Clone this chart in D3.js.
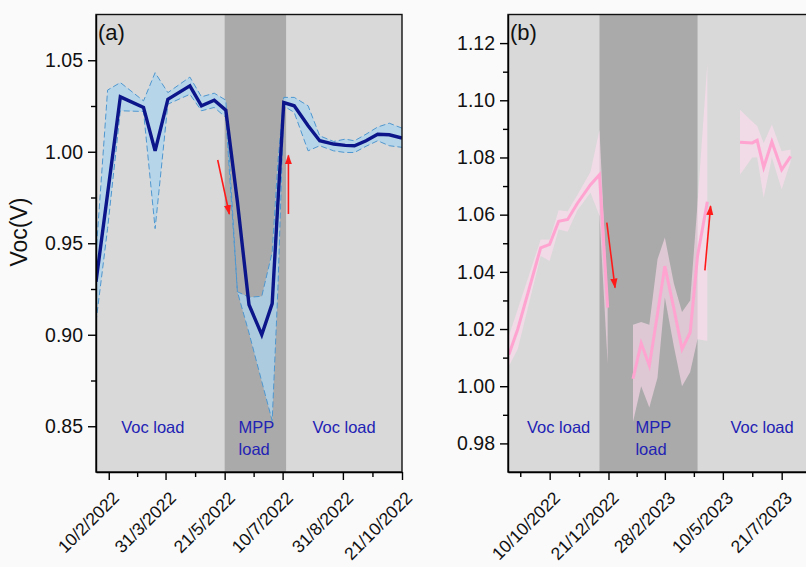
<!DOCTYPE html>
<html>
<head>
<meta charset="utf-8">
<script src="https://cdn.jsdelivr.net/npm/d3@7"></script>
<style>
body { margin: 0; background: #fafafa; }
text { font-family: "Liberation Sans", Arial, sans-serif; }
</style>
</head>
<body>
<svg width="806" height="567"></svg>
<script>
// ---- panel (a) data
var aDates = ["2022-01-30","2022-02-09","2022-02-20","2022-03-12","2022-03-22","2022-04-02","2022-04-21",
              "2022-05-01","2022-05-12","2022-05-22","2022-06-01","2022-06-11","2022-06-22","2022-07-01",
              "2022-07-06","2022-07-11","2022-07-20","2022-08-01","2022-08-11","2022-08-23","2022-09-02",
              "2022-09-10","2022-09-20","2022-09-30","2022-10-10","2022-10-21"];
var aMean = [0.929,0.977,1.030,1.0242,1.0005,1.0287,1.036,1.0251,1.0282,1.0227,0.9727,0.9164,0.900,0.917,
             0.973,1.0269,1.0251,1.0142,1.006,1.0042,1.0035,1.0033,1.006,1.0096,1.0093,1.0075];
var aHi   = [0.944,1.0337,1.0378,1.0278,1.0432,1.0323,1.0408,1.030,1.032,1.0282,0.9235,0.9205,0.921,0.945,
             0.995,1.0297,1.0297,1.0251,1.0087,1.0056,1.0069,1.006,1.0096,1.0135,1.0156,1.0129];
var aLo   = [0.907,0.958,1.0224,1.022,0.958,1.026,1.0314,1.0224,1.0242,1.0188,0.9235,0.901,0.8745,0.853,
             0.926,1.025,1.0215,1.0005,1.0033,1.0005,0.9996,0.9996,1.003,1.006,1.0033,1.0024];
var aMpp = ["2022-05-21","2022-07-13"];
var aXTicks = ["2022-02-10","2022-03-31","2022-05-21","2022-07-10","2022-08-31","2022-10-21"];
var aYTicks = [0.85,0.90,0.95,1.00,1.05];

// ---- panel (b) data, three separate runs
var bDates = ["2022-08-21","2022-09-01","2022-09-29","2022-10-10","2022-10-21","2022-11-01","2022-11-13",
              "2022-11-29","2022-12-10","2022-12-20",
              "2023-01-20","2023-01-30","2023-02-09","2023-02-19","2023-02-28","2023-03-11","2023-03-21",
              "2023-03-31","2023-04-09","2023-04-21",
              "2023-05-31","2023-06-15","2023-06-21","2023-06-29","2023-07-09","2023-07-21","2023-08-01"];
var bRun  = [0,0,0,0,0,0,0,0,0,0, 1,1,1,1,1,1,1,1,1,1, 2,2,2,2,2,2,2];
var bMean = [1.011,1.020,1.0484,1.0496,1.0577,1.0583,1.064,1.0705,1.074,1.0275,
             1.0026,1.015,1.0072,1.0253,1.042,1.0272,1.013,1.0188,1.0455,1.0645,
             1.0853,1.0851,1.086,1.0765,1.0855,1.0757,1.0804];
var bHi   = [1.0175,1.027,1.0513,1.0513,1.0615,1.0612,1.067,1.075,1.0897,1.030,
             1.0215,1.0225,1.0215,1.0444,1.052,1.036,1.026,1.030,1.064,1.113,
             1.0967,1.0926,1.091,1.0851,1.0915,1.0822,1.0828];
var bLo   = [1.007,1.013,1.0455,1.0438,1.0548,1.054,1.0615,1.0677,1.0595,1.0077,
             0.9875,1.000,0.9926,1.003,1.031,1.014,1.000,1.005,1.0164,1.0158,
             1.074,1.080,1.080,1.0659,1.080,1.0688,1.0785];
var bMpp = ["2022-12-10","2023-04-09"];
var bXTicks = ["2022-10-10","2022-12-21","2023-02-28","2023-05-10","2023-07-21"];
var bYTicks = [0.98,1.00,1.02,1.04,1.06,1.08,1.10,1.12];

var svg = d3.select("svg");
var parse = d3.timeParse("%Y-%m-%d");
var dmy = function(d) { return d.getDate() + "/" + (d.getMonth() + 1) + "/" + d.getFullYear(); };

var defs = svg.append("defs");
defs.append("marker")
    .attr("id", "head")
    .attr("viewBox", "0 -4 10 8")
    .attr("refX", 9).attr("refY", 0)
    .attr("markerWidth", 10).attr("markerHeight", 8)
    .attr("markerUnits", "userSpaceOnUse")
    .attr("orient", "auto")
    .append("path").attr("d", "M0,-3.6L10,0L0,3.6Z").attr("fill", "#ff1a1a");

function drawPanel(p) {
    var x = d3.scaleTime().domain(p.xDomain.map(parse)).range([p.left, p.right]);
    var y = d3.scaleLinear().domain(p.yDomain).range([p.bottom, p.top]);
    var g = svg.append("g");

    g.append("rect")
        .attr("x", p.left).attr("y", p.top)
        .attr("width", p.right - p.left).attr("height", p.bottom - p.top)
        .attr("fill", "#d9d9d9");
    g.append("rect")
        .attr("x", x(parse(p.mpp[0]))).attr("y", p.top)
        .attr("width", x(parse(p.mpp[1])) - x(parse(p.mpp[0]))).attr("height", p.bottom - p.top)
        .attr("fill", "#aaaaaa");

    defs.append("clipPath").attr("id", p.id + "clip")
        .append("rect")
        .attr("x", p.left).attr("y", p.top)
        .attr("width", p.right - p.left).attr("height", p.bottom - p.top);

    var rows = p.dates.map(function(d, i) {
        return {date: parse(d), mean: p.mean[i], hi: p.hi[i], lo: p.lo[i], run: p.run ? p.run[i] : 0};
    });
    var runs = d3.groups(rows, function(d) { return d.run; }).map(function(r) { return r[1]; });

    var area = d3.area()
        .x(function(d) { return x(d.date); })
        .y0(function(d) { return y(d.lo); })
        .y1(function(d) { return y(d.hi); });
    var line = function(key) {
        return d3.line().x(function(d) { return x(d.date); }).y(function(d) { return y(d[key]); });
    };

    var plot = g.append("g").attr("clip-path", "url(#" + p.id + "clip)");
    runs.forEach(function(r) {
        plot.append("path").attr("d", area(r))
            .attr("fill", p.bandFill).attr("fill-opacity", p.bandOpacity);
        if (p.edge) {
            ["hi", "lo"].forEach(function(k) {
                plot.append("path").attr("d", line(k)(r))
                    .attr("fill", "none").attr("stroke", p.edge)
                    .attr("stroke-width", 1).attr("stroke-dasharray", "6,3");
            });
        }
        plot.append("path").attr("d", line("mean")(r))
            .attr("fill", "none").attr("stroke", p.lineColor)
            .attr("stroke-width", p.lineWidth).attr("stroke-linejoin", "miter");
    });

    // arrows
    p.arrows.forEach(function(a) {
        g.append("line")
            .attr("x1", x(parse(a[0]))).attr("y1", y(a[1]))
            .attr("x2", x(parse(a[2]))).attr("y2", y(a[3]))
            .attr("stroke", "#ff1a1a").attr("stroke-width", 1.6)
            .attr("marker-end", "url(#head)");
    });

    // region labels
    p.labels.forEach(function(l) {
        var t = g.append("text")
            .attr("x", x(parse(l[1]))).attr("y", p.bottom - 39)
            .attr("text-anchor", l[2])
            .attr("fill", "#2222b4").attr("font-size", 16.5);
        l[0].split("\n").forEach(function(s, i) {
            t.append("tspan").attr("x", x(parse(l[1]))).attr("dy", i ? 22 : 0).text(s);
        });
    });

    // frame
    g.append("rect")
        .attr("x", p.left).attr("y", p.top)
        .attr("width", p.right - p.left).attr("height", p.bottom - p.top)
        .attr("fill", "none").attr("stroke", "#111").attr("stroke-width", 1.4);

    // y axis
    var yStep = p.yTicks[1] - p.yTicks[0];
    var yMinor = p.yTicks.map(function(v) { return v + yStep / 2; })
        .concat([p.yTicks[0] - yStep / 2])
        .filter(function(v) { return v > p.yDomain[0] + 1e-6 && v < p.yDomain[1] - 1e-6; });
    g.append("g").attr("transform", "translate(" + p.left + ",0)")
        .call(d3.axisLeft(y).tickValues(yMinor).tickSize(5).tickSizeOuter(0).tickFormat(""))
        .call(function(s) { s.select(".domain").remove(); s.selectAll("line").attr("stroke-width", 1.4); });
    g.append("g").attr("transform", "translate(" + p.left + ",0)")
        .call(d3.axisLeft(y).tickValues(p.yTicks).tickSize(8).tickSizeOuter(0).tickPadding(5)
              .tickFormat(d3.format(".2f")))
        .call(function(s) {
            s.select(".domain").attr("stroke-width", 1.4);
            s.selectAll("line").attr("stroke-width", 1.4);
            s.selectAll("text").attr("font-size", 19.5).attr("fill", "#111")
                .attr("font-family", "Liberation Sans, Arial, sans-serif");
        });

    // x axis
    var xt = p.xTicks.map(parse);
    var xMinor = [];
    for (var i = 0; i < xt.length; i++) {
        var prev = i > 0 ? xt[i - 1] : new Date(2 * xt[0] - xt[1]);
        xMinor.push(new Date((+prev + +xt[i]) / 2));
    }
    xMinor.push(new Date(xt[xt.length - 1] * 1.5 - xt[xt.length - 2] * 0.5));
    xMinor = xMinor.filter(function(d) { return x(d) > p.left + 1 && x(d) < p.right - 1; });
    g.append("g").attr("transform", "translate(0," + p.bottom + ")")
        .call(d3.axisBottom(x).tickValues(xMinor).tickSize(5).tickSizeOuter(0).tickFormat(""))
        .call(function(s) { s.select(".domain").remove(); s.selectAll("line").attr("stroke-width", 1.4); });
    g.append("g").attr("transform", "translate(0," + p.bottom + ")")
        .call(d3.axisBottom(x).tickValues(xt).tickSize(8).tickSizeOuter(0).tickFormat(dmy))
        .call(function(s) {
            s.select(".domain").attr("stroke-width", 1.4);
            s.selectAll("line").attr("stroke-width", 1.4);
            s.selectAll("text")
                .attr("font-size", 17.5).attr("fill", "#111")
                .attr("font-family", "Liberation Sans, Arial, sans-serif")
                .attr("text-anchor", "end")
                .attr("x", 0).attr("y", 0).attr("dy", null)
                .attr("transform", "translate(11,27) rotate(-45)");
        });

    svg.append("text")
        .attr("x", p.left + 2).attr("y", p.top + 25)
        .attr("font-size", 22).attr("fill", "#111")
        .text(p.tag);
    return {x: x, y: y};
}

drawPanel({
    id: "a", tag: "(a)",
    left: 96, right: 402, top: 14.5, bottom: 472,
    xDomain: ["2022-01-30", "2022-10-21"], yDomain: [0.825, 1.075],
    xTicks: aXTicks, yTicks: aYTicks, mpp: aMpp,
    dates: aDates, mean: aMean, hi: aHi, lo: aLo,
    bandFill: "#aed3ec", bandOpacity: 0.8, edge: "#4f97cf",
    lineColor: "#0c168a", lineWidth: 3.4,
    arrows: [["2022-05-15", 0.9955, "2022-05-25", 0.966],
             ["2022-07-15", 0.966, "2022-07-15", 0.998]],
    labels: [["Voc load", "2022-03-20", "middle"],
             ["MPP\nload", "2022-06-02", "start"],
             ["Voc load", "2022-09-01", "middle"]]
});

drawPanel({
    id: "b", tag: "(b)",
    left: 508, right: 807, top: 14.5, bottom: 472,
    xDomain: ["2022-08-20", "2023-08-21"], yDomain: [0.97, 1.13],
    xTicks: bXTicks, yTicks: bYTicks, mpp: bMpp,
    dates: bDates, run: bRun, mean: bMean, hi: bHi, lo: bLo,
    bandFill: "#ffdcef", bandOpacity: 0.6, edge: null,
    lineColor: "#ffa3d1", lineWidth: 3,
    arrows: [["2022-12-19", 1.0572, "2022-12-29", 1.0345],
             ["2023-04-18", 1.0405, "2023-04-25", 1.063]],
    labels: [["Voc load", "2022-10-21", "middle"],
             ["MPP\nload", "2023-01-23", "start"],
             ["Voc load", "2023-06-27", "middle"]]
});

// y title, left panel only
svg.append("text")
    .attr("transform", "translate(27,232) rotate(-90)")
    .attr("text-anchor", "middle")
    .attr("font-size", 23).attr("fill", "#111")
    .text("Voc(V)");
</script>
</body>
</html>
